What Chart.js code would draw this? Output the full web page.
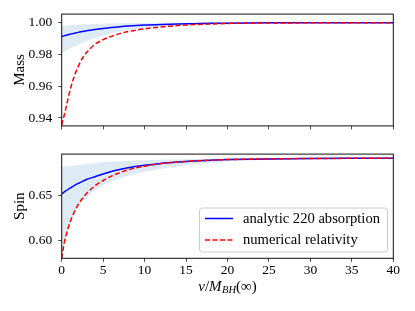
<!DOCTYPE html>
<html>
<head>
<meta charset="utf-8">
<script src="https://cdn.jsdelivr.net/npm/chart.js@4.4.1/dist/chart.umd.min.js"></script>
<style>
  html, body { margin: 0; padding: 0; background: #fff; }
  #wrap { position: relative; width: 415px; height: 311px; }
  #massChart { position: absolute; left: 0; top: 0; }
  #spinChart { position: absolute; left: 0; top: 140px; }
</style>
</head>
<body>
<div id="wrap">
  <canvas id="massChart" width="415" height="140"></canvas>
  <canvas id="spinChart" width="415" height="171"></canvas>
</div>
<script>
// v / M_BH(inf)
const velocity = [0, 0.25, 0.5, 1, 1.5, 2, 2.5, 3, 4, 5, 6, 7, 8, 10, 12, 14, 16, 18, 20, 25, 30, 35, 40];

const massAnalytic = [0.9913, 0.9917, 0.9920, 0.9927, 0.9933, 0.9939, 0.9944, 0.9949, 0.9957, 0.9964, 0.9970, 0.9975, 0.9979, 0.9985, 0.9989, 0.9992, 0.9994, 0.9996, 0.9997, 0.9999, 1.0000, 1.0000, 1.0000];
const massNR = [0.9355, 0.9406, 0.9460, 0.9573, 0.9660, 0.9725, 0.9776, 0.9812, 0.9863, 0.9893, 0.9914, 0.9931, 0.9944, 0.9961, 0.9973, 0.9982, 0.9988, 0.9992, 0.9995, 0.9998, 0.9999, 1.0000, 1.0000];
const massBandHigh = [0.9981, 0.9982, 0.9983, 0.9985, 0.9986, 0.9988, 0.9989, 0.9990, 0.9992, 0.9994, 0.9995, 0.9996, 0.9997, 0.9998, 0.9999, 1.0000, 1.0000, 1.0000, 1.0000, 1.0000, 1.0001, 1.0001, 1.0001];
const massBandLow = [0.9810, 0.9817, 0.9824, 0.9837, 0.9850, 0.9861, 0.9872, 0.9883, 0.9903, 0.9920, 0.9934, 0.9944, 0.9952, 0.9965, 0.9975, 0.9983, 0.9988, 0.9992, 0.9995, 0.9998, 0.9999, 1.0000, 1.0000];

const spinAnalytic = [0.6517, 0.6534, 0.6550, 0.6581, 0.6608, 0.6633, 0.6656, 0.6676, 0.6707, 0.6738, 0.6766, 0.6788, 0.6807, 0.6834, 0.6855, 0.6870, 0.6882, 0.6891, 0.6897, 0.6905, 0.6909, 0.6911, 0.6912];
const spinNR = [0.5800, 0.5945, 0.6045, 0.6200, 0.6312, 0.6400, 0.6466, 0.6522, 0.6606, 0.6665, 0.6714, 0.6752, 0.6783, 0.6824, 0.6853, 0.6870, 0.6882, 0.6891, 0.6897, 0.6905, 0.6909, 0.6911, 0.6912];
const spinBandHigh = [0.6817, 0.6819, 0.6821, 0.6826, 0.6831, 0.6836, 0.6841, 0.6847, 0.6859, 0.6869, 0.6875, 0.6880, 0.6884, 0.6890, 0.6896, 0.6900, 0.6903, 0.6906, 0.6908, 0.6910, 0.6911, 0.6912, 0.6913];
const spinBandLow = [0.5780, 0.5930, 0.6030, 0.6180, 0.6290, 0.6370, 0.6430, 0.6480, 0.6555, 0.6612, 0.6655, 0.6690, 0.6718, 0.6762, 0.6795, 0.6822, 0.6845, 0.6862, 0.6875, 0.6895, 0.6905, 0.6910, 0.6912];

const velocityTicks = [0, 5, 10, 15, 20, 25, 30, 35, 40];
const massTicks = [0.94, 0.96, 0.98, 1.00];
const spinTicks = [0.60, 0.65];

const seriesLabels = ['analytic 220 absorption', 'numerical relativity'];

const SERIF = "'Liberation Serif', 'Times New Roman', serif";
const BAND = 'rgba(31, 119, 180, 0.15)';

Chart.defaults.font.family = SERIF;
Chart.defaults.font.size = 13.5;
Chart.defaults.color = '#000';

const toPoints = ys => velocity.map((v, i) => ({ x: v, y: ys[i] }));

function buildDatasets(analytic, nr, high, low) {
    return [
        {
            label: seriesLabels[0],
            data: toPoints(analytic),
            borderColor: '#0000ff',
            borderWidth: 1.5,
            order: 1
        },
        {
            label: seriesLabels[1],
            data: toPoints(nr),
            borderColor: '#ff0000',
            borderWidth: 1.5,
            borderDash: [5, 2.5],
            order: 0
        },
        {
            data: toPoints(high),
            borderWidth: 0,
            borderColor: 'rgba(0,0,0,0)',
            fill: false,
            order: 2
        },
        {
            data: toPoints(low),
            borderWidth: 0,
            borderColor: 'rgba(0,0,0,0)',
            backgroundColor: BAND,
            fill: '-1',
            order: 3
        }
    ];
}

// box round the plot area
const framePlugin = {
    id: 'frame',
    afterDraw(chart) {
        const { ctx, chartArea: a } = chart;
        ctx.save();
        ctx.strokeStyle = '#111';
        ctx.lineWidth = 1;
        ctx.strokeRect(a.left, a.top, a.right - a.left, a.bottom - a.top);
        ctx.restore();
    }
};

function roundRect(ctx, x, y, w, h, r) {
    ctx.beginPath();
    ctx.moveTo(x + r, y);
    ctx.arcTo(x + w, y, x + w, y + h, r);
    ctx.arcTo(x + w, y + h, x, y + h, r);
    ctx.arcTo(x, y + h, x, y, r);
    ctx.arcTo(x, y, x + w, y, r);
    ctx.closePath();
}

// legend in lower right of the spin panel
const cornerLegend = {
    id: 'cornerLegend',
    afterDraw(chart) {
        const { ctx, chartArea: a } = chart;
        const items = chart.data.datasets.filter(d => d.label);
        ctx.save();
        ctx.font = '14.6px ' + SERIF;
        const textW = Math.max(...items.map(d => ctx.measureText(d.label).width));
        const w = 44 + textW + 7;
        const h = 44;
        const x = a.right - 6.3 - w;
        const y = a.bottom - 6.8 - h;
        roundRect(ctx, x + 0.5, y + 0.5, w, h, 3);
        ctx.fillStyle = 'rgba(255,255,255,0.8)';
        ctx.fill();
        ctx.strokeStyle = '#cccccc';
        ctx.lineWidth = 1;
        ctx.stroke();
        const rows = [y + 11, y + h - 11.5];
        items.forEach((d, i) => {
            ctx.beginPath();
            ctx.strokeStyle = d.borderColor;
            ctx.lineWidth = d.borderWidth;
            ctx.setLineDash(d.borderDash || []);
            ctx.moveTo(x + 6, rows[i]);
            ctx.lineTo(x + 34, rows[i]);
            ctx.stroke();
            ctx.setLineDash([]);
            ctx.fillStyle = '#000';
            ctx.textBaseline = 'middle';
            ctx.textAlign = 'left';
            ctx.fillText(d.label, x + 44, rows[i] + 0.5);
        });
        ctx.restore();
    }
};

// x title with subscript: v/M_BH(inf)
const xTitle = {
    id: 'xTitle',
    afterDraw(chart) {
        const { ctx, chartArea: a } = chart;
        const parts = [
            { t: 'v', f: 'italic 15px ' + SERIF, dy: 0 },
            { t: '/', f: '15px ' + SERIF, dy: 0 },
            { t: 'M', f: 'italic 15px ' + SERIF, dy: 0 },
            { t: 'BH', f: 'italic 10.5px ' + SERIF, dy: 2.5 },
            { t: '(\u221e)', f: '15px ' + SERIF, dy: 0 }
        ];
        ctx.save();
        let total = 0;
        parts.forEach(p => { ctx.font = p.f; p.w = ctx.measureText(p.t).width + (p.t === 'M' ? 0.5 : 0); total += p.w; });
        let x = (a.left + a.right) / 2 - total / 2;
        const base = a.bottom + 32.5;
        ctx.fillStyle = '#000';
        ctx.textBaseline = 'alphabetic';
        parts.forEach(p => {
            ctx.font = p.f;
            ctx.fillText(p.t, x, base + p.dy);
            x += p.w;
        });
        ctx.restore();
    }
};

function makeOptions(yTitle, yMin, yMax, yTicks, showX, xHeight, topPad) {
    return {
        responsive: false,
        animation: false,
        layout: { padding: { top: topPad, right: 21.7, left: 0, bottom: 0 } },
        elements: {
            point: { radius: 0 },
            line: { cubicInterpolationMode: 'monotone' }
        },
        plugins: {
            legend: { display: false },
            tooltip: { enabled: false }
        },
        scales: {
            x: {
                type: 'linear',
                min: 0,
                max: 40,
                afterBuildTicks: s => { s.ticks = velocityTicks.map(v => ({ value: v })); },
                afterFit: s => { s.height = xHeight; },
                grid: { drawOnChartArea: false, tickLength: 3.5, color: '#222', lineWidth: 0.8 },
                border: { display: false },
                ticks: { display: showX, padding: 1, maxRotation: 0 }
            },
            y: {
                min: yMin,
                max: yMax,
                afterBuildTicks: s => { s.ticks = yTicks.map(v => ({ value: v })); },
                afterFit: s => { s.width = 61.7; },
                grid: { drawOnChartArea: false, tickLength: 3.5, color: '#222', lineWidth: 0.8 },
                border: { display: false },
                ticks: { padding: 6, callback: v => v.toFixed(2) },
                title: { display: true, text: yTitle, font: { size: 15 }, padding: { top: 11, bottom: 0 } }
            }
        }
    };
}

new Chart(document.getElementById('massChart'), {
    type: 'line',
    data: { datasets: buildDatasets(massAnalytic, massNR, massBandHigh, massBandLow) },
    options: makeOptions('Mass', 0.935, 1.0054, massTicks, false, 12.7, 14),
    plugins: [framePlugin]
});

new Chart(document.getElementById('spinChart'), {
    type: 'line',
    data: { datasets: buildDatasets(spinAnalytic, spinNR, spinBandHigh, spinBandLow) },
    options: makeOptions('Spin', 0.5802, 0.6958, spinTicks, true, 52.7, 5.7),
    plugins: [framePlugin, cornerLegend, xTitle]
});
</script>
</body>
</html>
